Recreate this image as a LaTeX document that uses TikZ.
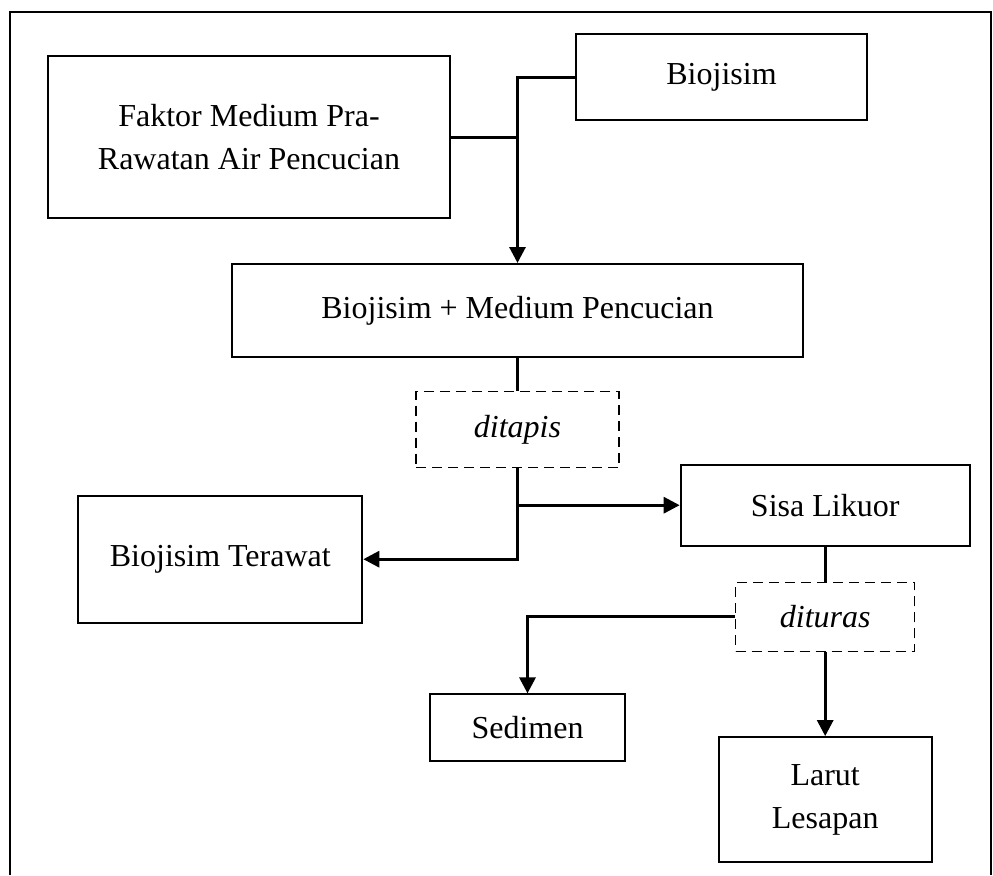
\documentclass[tikz,border=0pt]{standalone}
\usepackage{fontspec}
\setmainfont{Liberation Serif}
\usepackage{tikz}
\usetikzlibrary{positioning, arrows.meta}
\tikzstyle{process} = [rectangle, draw=black, line width=1pt, inner sep=0pt,
    text centered, align=center, font=\fontsize{16pt}{21.5pt}\selectfont]
\tikzstyle{filter} = [rectangle, draw=black, line width=0.7pt, dash pattern=on 5pt off 3pt,
    inner sep=0pt, text centered, font=\fontsize{16pt}{21.5pt}\selectfont\itshape]
\tikzstyle{arrow} = [line width=1.5pt,-{Triangle[length=8pt,width=8pt]}]
\tikzstyle{link} = [line width=1.5pt]

\begin{document}
\begin{tikzpicture}
            \useasboundingbox (0,0) rectangle (496.5pt,-437.5pt);
            \draw [line width=1pt] (5pt,-437.5pt) |- (495.5pt,-6pt) -- (495.5pt,-437.5pt);

            \node (faktor) [process, minimum width=201pt, minimum height=81pt] at (124.5pt,-68.5pt) {Faktor Medium Pra-\\Rawatan Air Pencucian};
            \node (bio) [process, minimum width=145.5pt, minimum height=43pt, right=62pt of faktor.east, yshift=30pt] {Biojisim};
            \node (medium) [process, minimum width=285.5pt, minimum height=46.5pt, below=22pt of faktor.south, xshift=134.25pt] {Biojisim + Medium Pencucian};
            \node (ditapis) [filter, minimum width=101.5pt, minimum height=38pt, below=16.5pt of medium] {ditapis};
            \node (sisa) [process, minimum width=144.5pt, minimum height=40.5pt, right=30pt of ditapis.east, yshift=-37.75pt] {Sisa Likuor};
            \node (terawat) [process, minimum width=142pt, minimum height=63.5pt, left=26pt of ditapis.west, yshift=-64.75pt] {Biojisim Terawat};
            \node (dituras) [filter, minimum width=89.5pt, minimum height=34.5pt, below=17.5pt of sisa] {dituras};
            \node (sedimen) [process, minimum width=97.5pt, minimum height=33.5pt, below=112.5pt of ditapis.south, xshift=5pt] {Sedimen};
            \node (larut) [process, minimum width=106.5pt, minimum height=62.5pt, below=42pt of dituras] {Larut\\Lesapan};

            \draw [link] (faktor.east) -- (faktor.east -| medium.north);
            \draw [arrow] (bio.west) -| (medium.north);
            \draw [link] (medium.south) -- (ditapis.north);
            \draw [arrow] (ditapis.south) |- (terawat.east);
            \draw [arrow] (ditapis.south |- sisa.west) -- (sisa.west);
            \draw [link] (sisa.south) -- (dituras.north);
            \draw [arrow] (dituras.west) -| (sedimen.north);
            \draw [arrow] (dituras.south) -- (larut.north);
        \end{tikzpicture}
\end{document}
